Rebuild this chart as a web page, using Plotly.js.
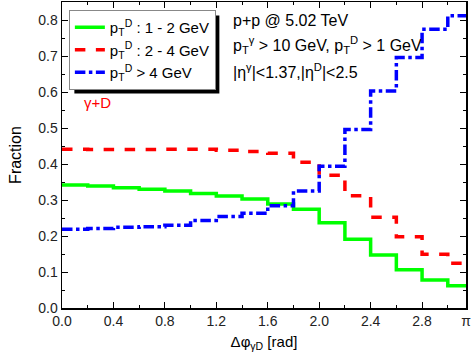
<!DOCTYPE html>
<html>
<head>
<meta charset="utf-8">
<script src="https://cdn.plot.ly/plotly-3.0.1.min.js"></script>
<style>
  body { margin: 0; background: #fff; }
  #plotArea { width: 471px; height: 360px; }
</style>
</head>
<body>
<div id="plotArea"></div>
<script>
// bin edges in delta phi (last bin ends at pi)
var binEdges = [0.0, 0.2, 0.4, 0.6, 0.8, 1.0, 1.2, 1.4, 1.6, 1.8, 2.0, 2.2, 2.4, 2.6, 2.8, 3.0, Math.PI];

// fraction per bin, one value per bin
var fracLow  = [0.342, 0.339, 0.334, 0.330, 0.325, 0.318, 0.311, 0.303, 0.289, 0.274, 0.237, 0.191, 0.147, 0.106, 0.078, 0.062];
var fracMid  = [0.441, 0.440, 0.440, 0.440, 0.441, 0.441, 0.438, 0.435, 0.430, 0.405, 0.369, 0.312, 0.252, 0.198, 0.149, 0.124];
var fracHigh = [0.219, 0.221, 0.224, 0.226, 0.230, 0.243, 0.254, 0.263, 0.284, 0.325, 0.394, 0.496, 0.603, 0.696, 0.774, 0.812];

var seriesNames = [
    "p<sub>T</sub><sup>D</sup> : 1 - 2 GeV",
    "p<sub>T</sub><sup>D</sup> : 2 - 4 GeV",
    "p<sub>T</sub><sup>D</sup> > 4 GeV"
];

var xTickVals = [0, 0.4, 0.8, 1.2, 1.6, 2.0, 2.4, 2.8, 3.1415];
var xTickText = ["0.0", "0.4", "0.8", "1.2", "1.6", "2.0", "2.4", "2.8", "π"];

// step lines need the last value repeated at the right edge
function stepY(vals) {
    return vals.concat([vals[vals.length - 1]]);
}

var traceLow = {
    x: binEdges, y: stepY(fracLow), name: seriesNames[0],
    mode: "lines", line: {shape: "hv", color: "#00ff00", width: 3.5}
};
var traceMid = {
    x: binEdges, y: stepY(fracMid), name: seriesNames[1],
    mode: "lines", line: {shape: "hv", color: "#ff0000", width: 3.5, dash: "dash"}
};
var traceHigh = {
    x: binEdges, y: stepY(fracHigh), name: seriesNames[2],
    mode: "lines", line: {shape: "hv", color: "#0000ff", width: 3.5, dash: "dashdot"}
};

var axisFont = {family: "Liberation Sans, Arial, sans-serif", size: 14, color: "#222"};

var layout = {
    width: 471, height: 360,
    margin: {l: 62, r: 5, t: 2, b: 52},
    paper_bgcolor: "#fff", plot_bgcolor: "#fff",
    font: {family: "Liberation Sans, Arial, sans-serif", color: "#000"},
    showlegend: true,
    legend: {
        x: 0.017, y: 0.974, xanchor: "left", yanchor: "top",
        bgcolor: "#fff", bordercolor: "#888", borderwidth: 1,
        font: {size: 15, color: "#000"},
        itemwidth: 30, tracegroupgap: 0
    },
    xaxis: {
        range: [0, 3.1416],
        tickmode: "array", tickvals: xTickVals, ticktext: xTickText,
        ticklabeloverflow: "allow",
        ticks: "inside", ticklen: 6, tickwidth: 1, tickcolor: "#000",
        minor: {dtick: 0.2, tick0: 0, ticks: "inside", ticklen: 3, tickcolor: "#000"},
        showline: true, linecolor: "#000", linewidth: 1.5, mirror: "ticks",
        showgrid: false, zeroline: false,
        tickfont: axisFont,
        title: {text: "Δφ<sub>γD</sub> [rad]", font: {size: 15, color: "#000"}, standoff: 8}
    },
    yaxis: {
        range: [0, 0.85],
        tickmode: "linear", tick0: 0, dtick: 0.1, tickformat: ".1f",
        ticks: "inside", ticklen: 6, tickwidth: 1, tickcolor: "#000",
        minor: {dtick: 0.05, tick0: 0, ticks: "inside", ticklen: 3, tickcolor: "#000"},
        showline: true, linecolor: "#000", linewidth: 1.5, mirror: "ticks",
        showgrid: false, zeroline: false,
        tickfont: axisFont,
        title: {text: "Fraction", font: {size: 16, color: "#000"}, standoff: 12}
    },
    annotations: [
        {xref: "paper", yref: "paper", x: 0.418, y: 0.94, xanchor: "left", yanchor: "middle",
         showarrow: false, text: "p+p @ 5.02 TeV", font: {size: 16, color: "#000"}},
        {xref: "paper", yref: "paper", x: 0.418, y: 0.858, xanchor: "left", yanchor: "middle",
         showarrow: false, text: "p<sub>T</sub><sup>γ</sup> > 10 GeV, p<sub>T</sub><sup>D</sup> > 1 GeV",
         font: {size: 16, color: "#000"}},
        {xref: "paper", yref: "paper", x: 0.418, y: 0.775, xanchor: "left", yanchor: "middle",
         showarrow: false, text: "|η<sup>γ</sup>|<1.37,|η<sup>D</sup>|<2.5",
         font: {size: 16, color: "#000"}},
        {xref: "paper", yref: "paper", x: 0.05, y: 0.672, xanchor: "left", yanchor: "middle",
         showarrow: false, text: "γ+D", font: {size: 15, color: "#ff0000"}}
    ]
};

Plotly.newPlot("plotArea", [traceLow, traceMid, traceHigh], layout, {displayModeBar: false, staticPlot: true})
.then(function (gd) {
    // legend drop shadow: black box offset down-right of the legend frame
    var bgEl = gd.querySelector("g.legend rect.bg");
    if (!bgEl) return;
    var bg = bgEl.getBoundingClientRect();
    var root = gd.getBoundingClientRect();
    var sz = gd._fullLayout._size;
    var left = root.left + sz.l, bottom = root.top + sz.t + sz.h;
    var off = 5;
    var toX = function (px) { return (px - left) / sz.w; };
    var toY = function (py) { return (bottom - py) / sz.h; };
    Plotly.relayout(gd, {shapes: [{
        type: "rect", xref: "paper", yref: "paper",
        x0: toX(bg.left + off), x1: toX(bg.right + off - 1),
        y0: toY(bg.bottom + off - 1), y1: toY(bg.top + off),
        fillcolor: "#000", line: {width: 0}, layer: "above"
    }]});
});
</script>
</body>
</html>
